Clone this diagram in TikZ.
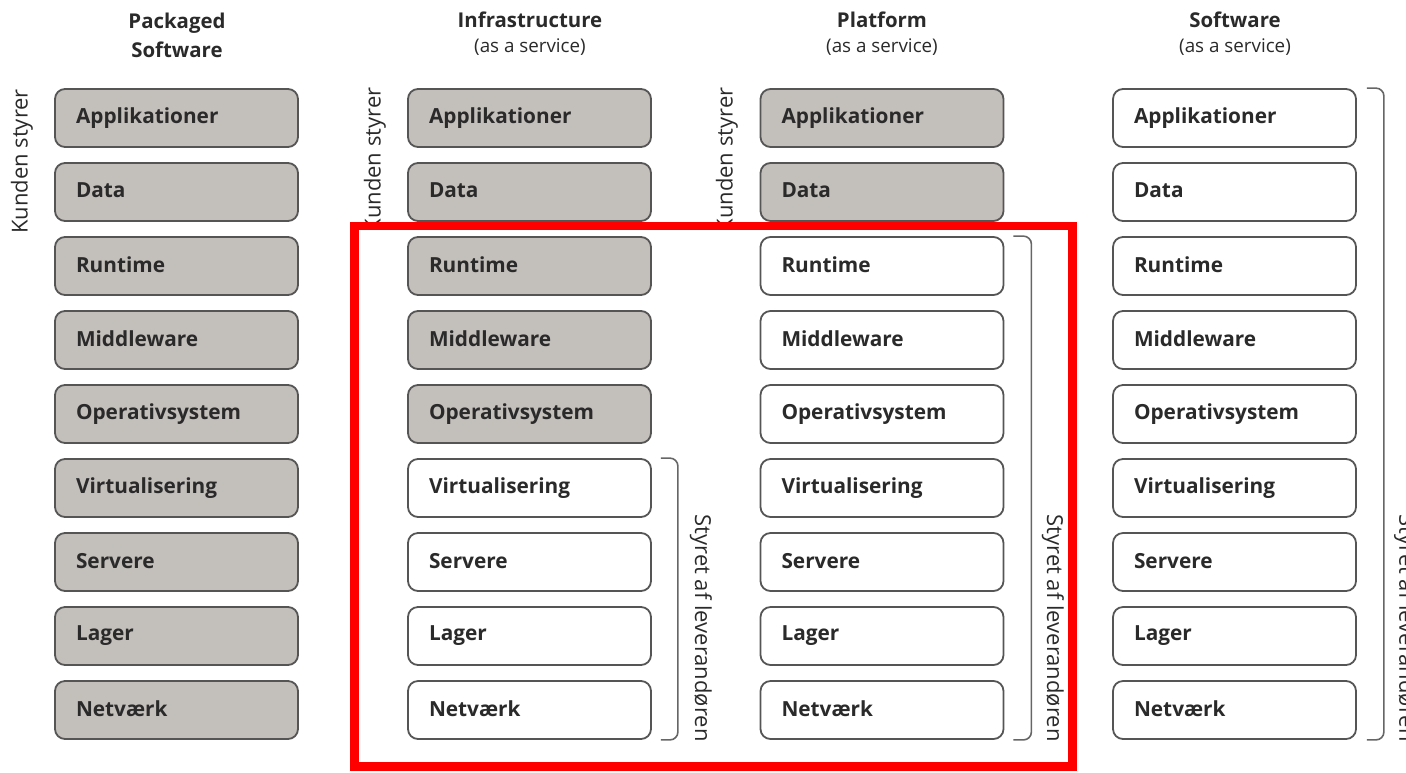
\documentclass[tikz,border=0pt]{standalone}
\usepackage{fontspec}
\setmainfont{Open Sans}
\definecolor{boxgray}{HTML}{C3BFBB}
\definecolor{bordergray}{HTML}{555555}
\definecolor{textgray}{HTML}{2A2A2A}
\definecolor{brgray}{HTML}{666666}
\definecolor{redline}{HTML}{FF0000}
\begin{document}
\begin{tikzpicture}[x=0.5pt,y=-0.5pt]
\useasboundingbox (0,0) rectangle (1406,772);
\tikzset{
  layer/.style={draw=bordergray, line width=0.9pt, rounded corners=5pt,
    minimum width=121.5pt, minimum height=29pt, text width=100.5pt,
    inner xsep=10.5pt, inner ysep=0pt, align=left,
    font=\bfseries\fontsize{10.4}{12}\selectfont, text=textgray},
  cust/.style={layer, fill=boxgray},
  prov/.style={layer, fill=white},
  title/.style={font=\bfseries\fontsize{10.2}{14.5}\selectfont, text=textgray, align=center, inner sep=0pt},
  sub/.style={font=\fontsize{9.4}{11}\selectfont, text=textgray, inner sep=0pt},
  side/.style={font=\fontsize{11}{12}\selectfont, text=textgray, inner sep=0pt},
  bracket/.style={draw=brgray, line width=0.8pt, rounded corners=4pt}
}
% headers
\node[title] (h1) at (177,35) {Packaged\\Software};
\node[title] (h2) at (530,20) {Infrastructure};
\node[sub]   (s2) at (530,47) {(as a service)};
\node[title] (h3) at (882,20) {Platform};
\node[sub]   (s3) at (882,47) {(as a service)};
\node[title] (h4) at (1235,20) {Software};
\node[sub]   (s4) at (1235,47) {(as a service)};
% layers
\foreach \lab [count=\r from 0] in {Applikationer,Data,Runtime,Middleware,Operativsystem,Virtualisering,Servere,Lager,Netværk}{
  \foreach \c/\x/\g in {1/176.5/8,2/529.5/4,3/882/1,4/1234.5/-1}{
    \ifnum\r>\g\def\sty{prov}\else\def\sty{cust}\fi
    \node[\sty] (b\c-\r) at (\x,{118+74*\r}) {\raisebox{1.5pt}{\lab}};
  }
}
% customer side labels
\node[side, rotate=90] (k1) at (22,161.5) {Kunden styrer};
\node[side, rotate=90] (k2) at (375,160) {Kunden styrer};
\node[side, rotate=90] (k3) at (727,160) {Kunden styrer};
% provider brackets
\draw[bracket] ([xshift=4.5pt]b2-5.north east) -| ([xshift=13pt]b2-8.south east) -- ([xshift=4.5pt]b2-8.south east);
\draw[bracket] ([xshift=4.5pt]b3-2.north east) -| ([xshift=13.5pt]b3-8.south east) -- ([xshift=4.5pt]b3-8.south east);
\draw[bracket] ([xshift=5pt]b4-0.north east) -| ([xshift=13.5pt]b4-8.south east) -- ([xshift=5pt]b4-8.south east);
\node[side, rotate=-90, anchor=east] (p2) at (701,742) {Styret af leverandøren};
\node[side, rotate=-90, anchor=east] (p3) at (1053,742) {Styret af leverandøren};
\node[side, rotate=-90, anchor=east] (p4) at (1405,742) {Styret af leverandøren};
% red frame
\draw[redline, line width=4.3pt] (354.5,226) rectangle (1072.5,766.5);
\end{tikzpicture}
\end{document}
